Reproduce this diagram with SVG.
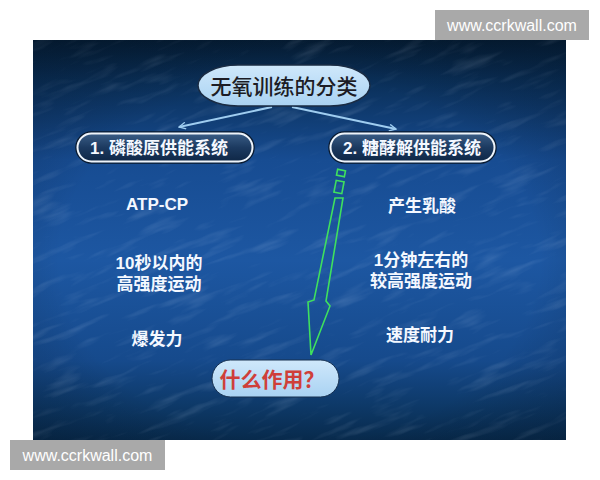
<svg xmlns="http://www.w3.org/2000/svg" width="600" height="480" viewBox="0 0 600 480">
<defs>
<linearGradient id="bgv" x1="0" y1="0" x2="0" y2="1">
<stop offset="0" stop-color="#051d35"/>
<stop offset="0.1" stop-color="#0a2f58"/>
<stop offset="0.3" stop-color="#174c92"/>
<stop offset="0.55" stop-color="#1d57a2"/>
<stop offset="0.8" stop-color="#164a8c"/>
<stop offset="0.92" stop-color="#0d3866"/>
<stop offset="1" stop-color="#082a4c"/>
</linearGradient>
<radialGradient id="vig" cx="0.5" cy="0.55" r="0.75">
<stop offset="0.6" stop-color="#000" stop-opacity="0"/>
<stop offset="1" stop-color="#021020" stop-opacity="0.3"/>
</radialGradient>
<clipPath id="pclip"><rect x="33" y="40" width="533" height="400"/></clipPath>
<filter id="tex" x="0" y="0" width="1" height="1">
<feTurbulence type="fractalNoise" baseFrequency="0.02 0.11" numOctaves="3" seed="4" result="n"/>
<feColorMatrix in="n" type="matrix" values="0 0 0 0 0.7  0 0 0 0 0.82  0 0 0 0 1  0 0 0 1.5 -0.8"/>
</filter>
<linearGradient id="pillfill" x1="0" y1="0" x2="0" y2="1">
<stop offset="0" stop-color="#3a5d86"/>
<stop offset="0.5" stop-color="#1c3a60"/>
<stop offset="1" stop-color="#0f2746"/>
</linearGradient>
<linearGradient id="lightfill" x1="0" y1="0" x2="0" y2="1">
<stop offset="0" stop-color="#cfe8fb"/>
<stop offset="1" stop-color="#a9d2f2"/>
</linearGradient>
<marker id="ah" viewBox="0 0 12 12" refX="11" refY="6" markerWidth="8" markerHeight="8" markerUnits="userSpaceOnUse" orient="auto">
<path d="M1,1 L11,6 L1,11" fill="none" stroke="#9fcdf0" stroke-width="2"/>
</marker>
<style>
.cjk{font-family:"Liberation Sans","Noto Sans CJK SC",sans-serif;}
.lbl{fill:#f4f8ff;font-size:17px;font-weight:bold;text-anchor:middle;}
.sys{fill:url(#pillfill);stroke:#eef4fa;stroke-width:2;}
.sysout{fill:none;stroke:#0a1a2e;stroke-width:1.5;}
.conn{stroke:#9fcdf0;stroke-width:2;fill:none;marker-end:url(#ah);}
.green{fill:none;stroke:#3fe05e;stroke-width:1.6;stroke-linejoin:miter;}
.wm{fill:#a9a9a9;}
.wmt{fill:#ffffff;font-family:"Liberation Sans",Arial,sans-serif;font-size:16px;}
</style>
</defs>
<rect x="0" y="0" width="600" height="480" fill="#ffffff"/>
<g id="panel">
<rect x="33" y="40" width="533" height="400" fill="url(#bgv)"/>
<g clip-path="url(#pclip)">
<rect x="-100" y="-100" width="800" height="700" filter="url(#tex)" opacity="0.24" transform="rotate(-22 300 240)"/>
</g>
<rect x="33" y="40" width="533" height="400" fill="url(#vig)"/>
</g>
<g id="connectors">
<line class="conn" x1="272" y1="107" x2="179" y2="127"/>
<line class="conn" x1="292" y1="107" x2="396" y2="129"/>
<g id="green-arrow">
<rect class="green" x="337" y="170" width="8" height="6" transform="rotate(11 341 173)"/>
<rect class="green" x="335" y="181" width="8" height="12" transform="rotate(11 339 187)"/>
<polygon class="green" points="335,198 343,198 326,301 330,306 311,355 308,302 314,300"/>
</g>
</g>
<g id="title">
<rect x="198" y="65" width="172" height="41" rx="40" ry="20.5" fill="url(#lightfill)" stroke="#1a2c44" stroke-width="1.5"/>
<text class="cjk" x="284" y="94" font-size="21" font-weight="500" fill="#1c1c24" text-anchor="middle">无氧训练的分类</text>
</g>
<g id="sys1">
<rect class="sysout" x="76" y="132" width="178" height="31" rx="15.5"/>
<rect class="sys" x="77.5" y="133.5" width="175" height="28" rx="14"/>
<text class="cjk lbl" x="159" y="154">1. 磷酸原供能系统</text>
</g>
<g id="sys2">
<rect class="sysout" x="329" y="132" width="167" height="31" rx="15.5"/>
<rect class="sys" x="330.5" y="133.5" width="164" height="28" rx="14"/>
<text class="cjk lbl" x="412" y="154">2. 糖酵解供能系统</text>
</g>
<g id="left-col">
<text class="cjk lbl" x="157" y="210">ATP-CP</text>
<text class="cjk lbl" x="159" y="269">10秒以内的</text>
<text class="cjk lbl" x="159" y="290">高强度运动</text>
<text class="cjk lbl" x="157" y="345">爆发力</text>
</g>
<g id="right-col">
<text class="cjk lbl" x="422" y="212">产生乳酸</text>
<text class="cjk lbl" x="421" y="266">1分钟左右的</text>
<text class="cjk lbl" x="421" y="287">较高强度运动</text>
<text class="cjk lbl" x="420" y="341">速度耐力</text>
</g>
<g id="question">
<rect x="212" y="360" width="127" height="37" rx="18.5" fill="url(#lightfill)" stroke="#163050" stroke-width="1"/>
<text class="cjk" x="272" y="387" font-size="21" font-weight="bold" fill="#cf3f3a" text-anchor="middle">什么作用？</text>
</g>
<g id="watermarks">
<rect class="wm" x="435" y="10" width="154" height="30"/>
<text class="wmt" x="512" y="31" text-anchor="middle">www.ccrkwall.com</text>
<rect class="wm" x="10" y="440" width="155" height="30"/>
<text class="wmt" x="87.5" y="461" text-anchor="middle">www.ccrkwall.com</text>
</g>
</svg>
